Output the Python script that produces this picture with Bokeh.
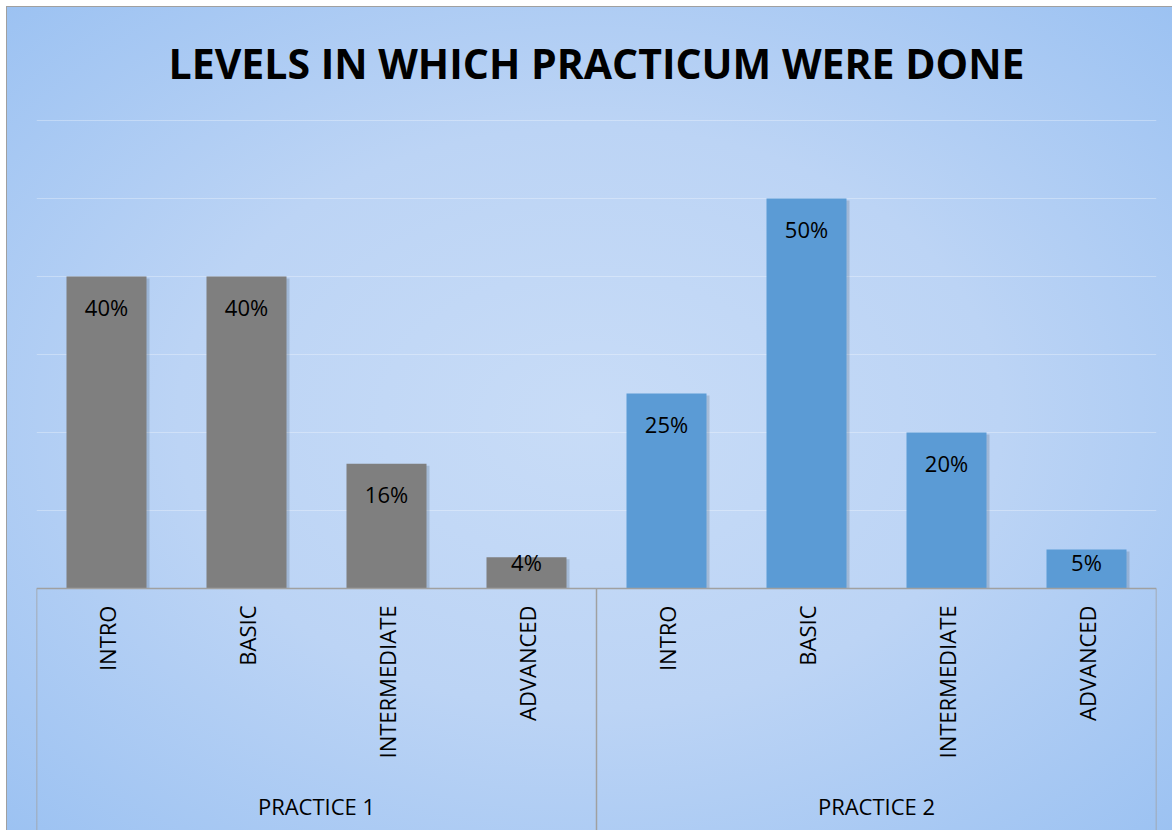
import math
from bokeh.plotting import figure
from bokeh.models import FactorRange, Range1d, Grid, SingleIntervalTicker, CategoricalAxis, ColumnDataSource
from bokeh.core.properties import value
from bokeh.transform import dodge
from bokeh.embed import file_html
from bokeh.resources import INLINE

# ---- data ----
title_text = "LEVELS IN WHICH PRACTICUM WERE DONE"
practices = ["PRACTICE 1", "PRACTICE 2"]
levels = ["INTRO", "BASIC", "INTERMEDIATE", "ADVANCED"]
practice1 = [0.40, 0.40, 0.16, 0.04]
practice2 = [0.25, 0.50, 0.20, 0.05]
bar_colors = ["#7f7f7f", "#5b9bd5"]

FONT = "Open Sans"
PX_PER_UNIT = 780.0

factors = [(p, l) for p in practices for l in levels]
vals = practice1 + practice2
colors = [bar_colors[0]] * len(levels) + [bar_colors[1]] * len(levels)
labels = ["%d%%" % round(v * 100) for v in vals]
label_y = [max(v - 30 / PX_PER_UNIT, 27 / PX_PER_UNIT) for v in vals]
shadow_top = [v - 2 / PX_PER_UNIT for v in vals]

src = ColumnDataSource(dict(x=factors, top=vals, color=colors, label=labels, ly=label_y, stop=shadow_top))

W, H = 1165, 823
bottom_units = (H - 581) / PX_PER_UNIT

x_range = FactorRange(*factors, range_padding=0, group_padding=0, factor_padding=0)
p = figure(
    width=W, height=H, x_range=x_range, y_range=Range1d(-bottom_units, 0.6 + 2 / PX_PER_UNIT),
    output_backend="svg", toolbar_location=None,
    x_axis_location=None, y_axis_location=None,
    min_border_left=29, min_border_right=16, min_border_top=0, min_border_bottom=0,
    title=title_text,
)
p.margin = (7, 0, 0, 7)
p.styles = {
    "background": "radial-gradient(ellipse farthest-corner at 50% 50%, #c8dcf7 0%, #bcd4f5 50%, #9cc2f2 100%)",
    "outline": "1px solid #a0a0a0",
}
p.border_fill_color = None
p.background_fill_color = None
p.outline_line_color = None
p.xgrid.visible = False
p.ygrid.visible = False

p.title.text_font = FONT
p.title.text_font_style = "bold"
p.title.text_font_size = "41px"
p.title.text_color = "#000000"
p.title.align = "center"
p.title.vertical_align = "middle"
p.title.standoff = 53

grid = Grid(dimension=1, ticker=SingleIntervalTicker(interval=0.1), bounds=(0.05, 0.65),
            grid_line_color="#ffffff", grid_line_alpha=0.3, grid_line_width=1)
p.add_layout(grid)

# soft shadow behind bars
p.vbar(x=dodge("x", 3 / 140, range=x_range), top="stop", width=80 / 140, fill_color="#1f3550",
       fill_alpha=0.18, line_color=None, source=src)
p.vbar(x="x", top="top", width=80 / 140, fill_color="color", line_color=None, source=src)

p.text(x="x", y="ly", text="label", source=src, text_align="center", text_baseline="middle",
       text_font=value(FONT), text_font_size="22px", text_color="#000000")

# group separator lines below the axis
bounds_x = [i * len(levels) for i in range(len(practices) + 1)]
p.segment(x0=bounds_x, y0=[0] * len(bounds_x), x1=bounds_x, y1=[-bottom_units] * len(bounds_x),
          line_color="#a0a0a0", line_width=1.5)

# group labels under the level labels
p.text(x=practices, y=[0] * len(practices), y_offset=217, text=practices,
       text_align="center", text_baseline="middle",
       text_font=value(FONT), text_font_size="22px", text_color="#000000")

xaxis = CategoricalAxis(fixed_location=0)
xaxis.axis_line_color = "#a0a0a0"
xaxis.axis_line_width = 1.5
xaxis.major_tick_line_color = None
xaxis.minor_tick_line_color = None
xaxis.separator_line_color = None
xaxis.major_label_orientation = math.pi / 2
xaxis.major_label_standoff = 11
xaxis.major_label_text_font = FONT
xaxis.major_label_text_font_size = "22px"
xaxis.major_label_text_color = "#000000"
xaxis.group_text_color = None
p.add_layout(xaxis, "below")

open("out.html", "w").write(file_html(p, INLINE))
